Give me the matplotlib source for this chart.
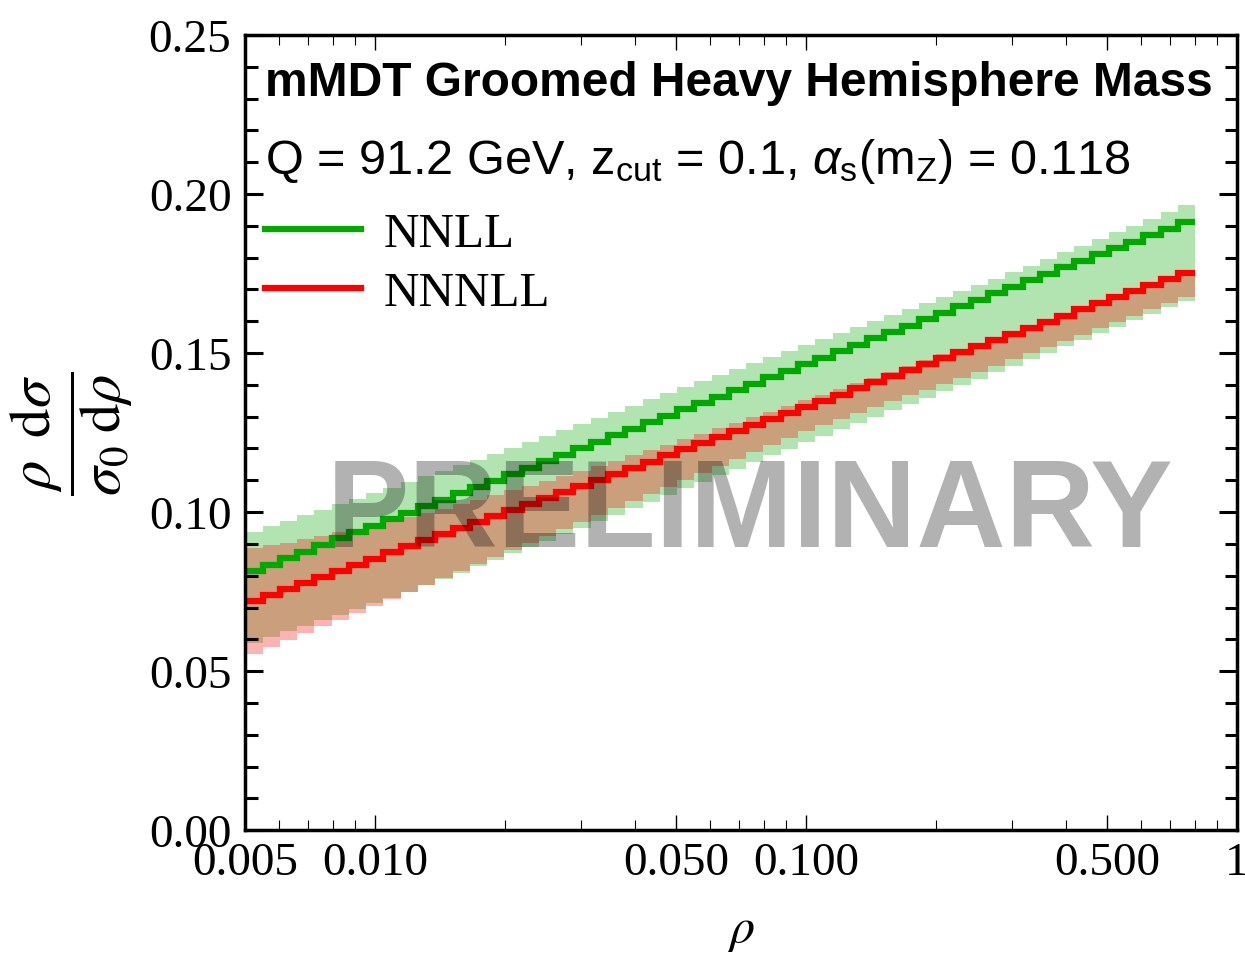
import numpy as np
import matplotlib
matplotlib.use("Agg")
import matplotlib.pyplot as plt
from matplotlib.ticker import FixedLocator, FixedFormatter

# bin edges in rho (log spaced, 55 bins)
edges = np.geomspace(0.005, 0.8, 56)

# NNLL central value and band
nnll = [0.0815, 0.0835, 0.0856, 0.0876, 0.0896, 0.0917, 0.0937, 0.0957, 0.0977, 0.0998,
        0.1018, 0.1038, 0.1059, 0.1079, 0.1099, 0.1120, 0.1140, 0.1160, 0.1180, 0.1201,
        0.1221, 0.1241, 0.1262, 0.1282, 0.1302, 0.1323, 0.1343, 0.1363, 0.1383, 0.1404,
        0.1424, 0.1444, 0.1465, 0.1485, 0.1505, 0.1526, 0.1546, 0.1566, 0.1586, 0.1607,
        0.1627, 0.1647, 0.1668, 0.1688, 0.1708, 0.1729, 0.1749, 0.1769, 0.1789, 0.1810,
        0.1830, 0.1850, 0.1871, 0.1891, 0.1913]
nnll_hi = [0.0937, 0.0955, 0.0972, 0.0990, 0.1007, 0.1025, 0.1042, 0.1060, 0.1077, 0.1095,
           0.1112, 0.1130, 0.1147, 0.1165, 0.1183, 0.1202, 0.1221, 0.1240, 0.1259, 0.1278,
           0.1297, 0.1316, 0.1335, 0.1354, 0.1373, 0.1392, 0.1411, 0.1430, 0.1449, 0.1468,
           0.1487, 0.1506, 0.1525, 0.1544, 0.1563, 0.1582, 0.1601, 0.1620, 0.1639, 0.1658,
           0.1677, 0.1696, 0.1715, 0.1734, 0.1754, 0.1775, 0.1796, 0.1817, 0.1838, 0.1859,
           0.1880, 0.1901, 0.1922, 0.1943, 0.1964]
nnll_lo = [0.0590, 0.0608, 0.0625, 0.0643, 0.0660, 0.0678, 0.0695, 0.0713, 0.0730, 0.0750,
           0.0770, 0.0790, 0.0810, 0.0830, 0.0850, 0.0870, 0.0890, 0.0910, 0.0930, 0.0950,
           0.0971, 0.0992, 0.1012, 0.1033, 0.1054, 0.1075, 0.1096, 0.1116, 0.1137, 0.1158,
           0.1179, 0.1199, 0.1220, 0.1240, 0.1260, 0.1280, 0.1300, 0.1320, 0.1340, 0.1360,
           0.1380, 0.1400, 0.1420, 0.1440, 0.1460, 0.1481, 0.1501, 0.1522, 0.1542, 0.1563,
           0.1583, 0.1604, 0.1624, 0.1645, 0.1665]

# NNNLL central value and band
nnnll = [0.0720, 0.0739, 0.0758, 0.0777, 0.0796, 0.0816, 0.0835, 0.0854, 0.0873, 0.0892,
         0.0911, 0.0930, 0.0949, 0.0968, 0.0987, 0.1007, 0.1026, 0.1045, 0.1064, 0.1083,
         0.1102, 0.1121, 0.1140, 0.1159, 0.1178, 0.1198, 0.1217, 0.1236, 0.1255, 0.1274,
         0.1293, 0.1312, 0.1331, 0.1350, 0.1369, 0.1389, 0.1408, 0.1427, 0.1446, 0.1465,
         0.1484, 0.1503, 0.1522, 0.1541, 0.1560, 0.1580, 0.1599, 0.1618, 0.1637, 0.1656,
         0.1675, 0.1694, 0.1713, 0.1732, 0.1751]
nnnll_hi = [0.0887, 0.0895, 0.0904, 0.0914, 0.0924, 0.0936, 0.0947, 0.0959, 0.0971, 0.0984,
            0.0997, 0.1010, 0.1024, 0.1038, 0.1053, 0.1068, 0.1083, 0.1099, 0.1114, 0.1130,
            0.1146, 0.1162, 0.1179, 0.1195, 0.1212, 0.1230, 0.1247, 0.1264, 0.1281, 0.1298,
            0.1316, 0.1333, 0.1351, 0.1369, 0.1386, 0.1405, 0.1423, 0.1441, 0.1459, 0.1477,
            0.1496, 0.1514, 0.1532, 0.1551, 0.1569, 0.1588, 0.1607, 0.1625, 0.1644, 0.1662,
            0.1681, 0.1700, 0.1718, 0.1737, 0.1756]
nnnll_lo = [0.0555, 0.0576, 0.0598, 0.0619, 0.0641, 0.0662, 0.0683, 0.0705, 0.0726, 0.0748,
            0.0770, 0.0792, 0.0814, 0.0836, 0.0859, 0.0881, 0.0903, 0.0925, 0.0947, 0.0969,
            0.0991, 0.1013, 0.1035, 0.1057, 0.1079, 0.1101, 0.1123, 0.1145, 0.1167, 0.1189,
            0.1211, 0.1233, 0.1255, 0.1274, 0.1292, 0.1311, 0.1329, 0.1348, 0.1367, 0.1385,
            0.1404, 0.1423, 0.1441, 0.1460, 0.1480, 0.1499, 0.1519, 0.1538, 0.1558, 0.1578,
            0.1597, 0.1617, 0.1637, 0.1656, 0.1676]

xticks = [0.005, 0.01, 0.05, 0.1, 0.5, 1]
xticklabels = ['0.005', '0.010', '0.050', '0.100', '0.500', '1']
xminor = [0.006, 0.007, 0.008, 0.009, 0.02, 0.03, 0.04, 0.06, 0.07, 0.08, 0.09,
          0.2, 0.3, 0.4, 0.6, 0.7, 0.8, 0.9]
yticks = [0.0, 0.05, 0.10, 0.15, 0.20, 0.25]
yticklabels = ['0.00', '0.05', '0.10', '0.15', '0.20', '0.25']

green = '#00a800'
red = '#ff0000'

plt.rcParams['font.family'] = 'Liberation Serif'
plt.rcParams['mathtext.fontset'] = 'custom'
plt.rcParams['mathtext.rm'] = 'Liberation Sans'
plt.rcParams['mathtext.it'] = 'Liberation Sans:italic'

fig = plt.figure(figsize=(12.45, 9.62), dpi=100)
ax = fig.add_axes([0.197, 0.136, 0.7966, 0.8266])

# bands first (green under red), then central lines
ax.stairs(nnll_hi, edges, baseline=nnll_lo, fill=True, color=green, alpha=0.3, lw=0)
ax.stairs(nnnll_hi, edges, baseline=nnnll_lo, fill=True, color=red, alpha=0.3, lw=0)
ax.stairs(nnll, edges, baseline=None, color=green, lw=4.5, label='NNLL')
ax.stairs(nnnll, edges, baseline=None, color=red, lw=4.5, label='NNNLL')

ax.set_xscale('log')
ax.set_xlim(0.005, 1)
ax.set_ylim(0, 0.25)

ax.xaxis.set_major_locator(FixedLocator(xticks))
ax.xaxis.set_major_formatter(FixedFormatter(xticklabels))
ax.xaxis.set_minor_locator(FixedLocator(xminor))
ax.xaxis.set_minor_formatter(FixedFormatter([''] * len(xminor)))
ax.set_yticks(yticks)
ax.set_yticklabels(yticklabels)
ax.set_yticks(np.arange(0, 0.251, 0.01), minor=True)

ax.tick_params(axis='both', which='both', direction='in', top=True, right=True, labelsize=34)
ax.tick_params(axis='x', which='major', length=11, width=1.0, pad=8)
ax.tick_params(axis='x', which='minor', length=7, width=0.8)
ax.tick_params(axis='y', which='major', length=13, width=2.2, pad=10)
ax.tick_params(axis='y', which='minor', length=9, width=2.2)
for s in ax.spines.values():
    s.set_linewidth(2.5)

ax.set_xlabel(r'$\rho$', fontsize=36, math_fontfamily='stix', labelpad=16)
ax.set_ylabel(r'$\dfrac{\rho\;\;\mathrm{d}\sigma}{\sigma_0\;\mathrm{d}\rho}$', fontsize=42,
              math_fontfamily='stix', labelpad=10)

ax.text(0.02, 0.94, 'mMDT Groomed Heavy Hemisphere Mass', transform=ax.transAxes,
        fontsize=34.5, fontweight='bold', family='Liberation Sans', va='center', ha='left')
ax.text(0.02, 0.842, r'Q = 91.2 GeV, z$_{\mathrm{cut}}$ = 0.1, $\alpha_{\mathrm{s}}$(m$_{\mathrm{Z}}$) = 0.118',
        transform=ax.transAxes, fontsize=35, family='Liberation Sans', va='center', ha='left')

ax.legend(loc='upper left', bbox_to_anchor=(0.02, 0.778), frameon=False, fontsize=35.5,
          handlelength=1.95, handletextpad=0.45, labelspacing=0.3, borderpad=0,
          borderaxespad=0)

# watermark
ax.text(0.509, 0.398, 'PRELIMINARY', transform=ax.transAxes, fontsize=89, fontweight='bold',
        family='Liberation Sans', color='black', alpha=0.3, ha='center', va='center', zorder=10)

fig.savefig('out.png', dpi=100)
